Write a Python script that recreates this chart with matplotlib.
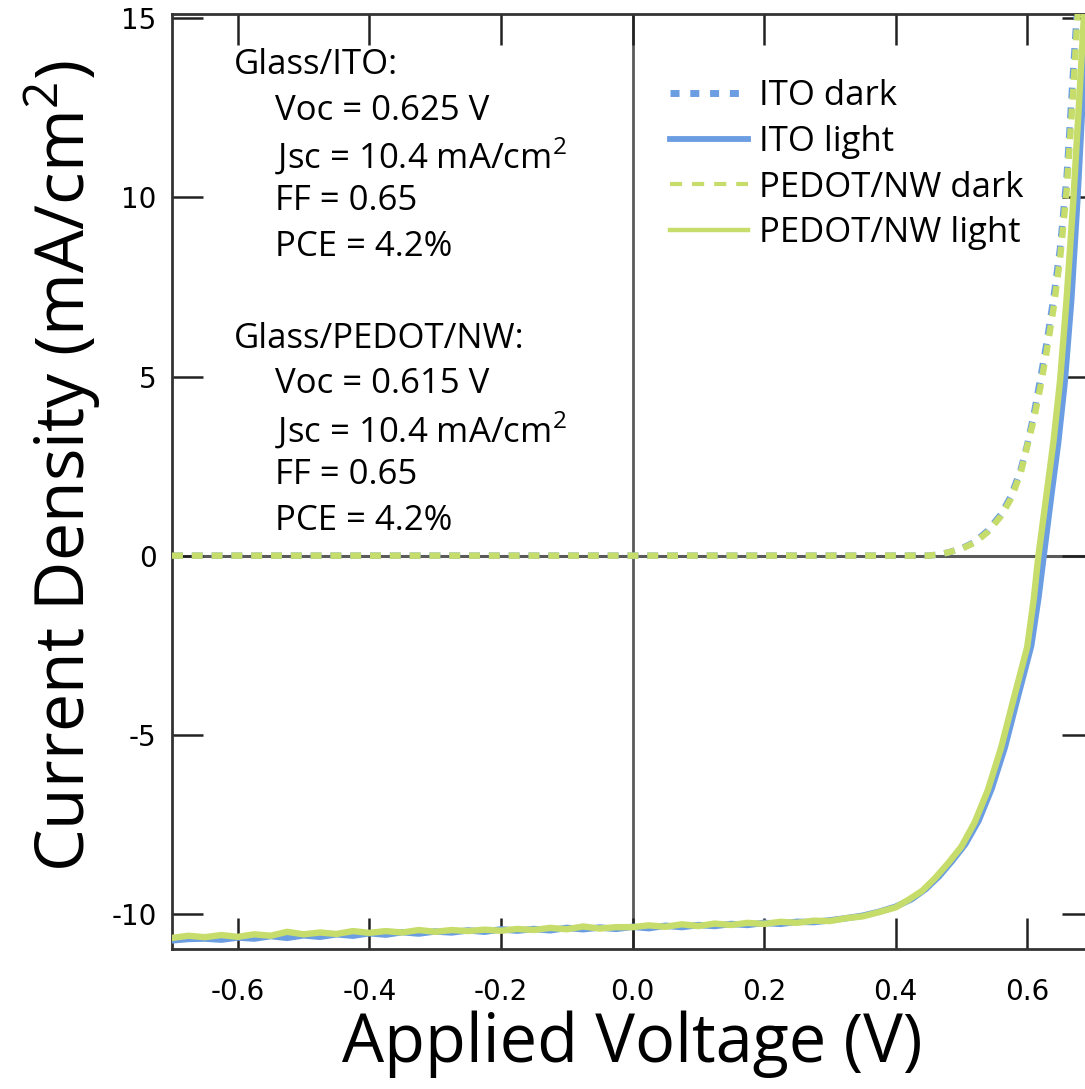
import matplotlib
matplotlib.use("Agg")
import matplotlib.pyplot as plt
from matplotlib.lines import Line2D

plt.rcParams['font.family'] = ['Open Sans', 'DejaVu Sans']
plt.rcParams['mathtext.fontset'] = 'custom'
plt.rcParams['mathtext.rm'] = 'Open Sans'

# ---- J-V data (V in volts, J in mA/cm^2) ----
dark_v = [-0.70, -0.60, -0.50, -0.40, -0.30, -0.20, -0.10, 0.00, 0.10, 0.20,
          0.30, 0.40, 0.45, 0.465, 0.48, 0.50, 0.52, 0.54, 0.56, 0.575, 0.59,
          0.60, 0.61, 0.62, 0.63, 0.64, 0.65, 0.66, 0.67, 0.677, 0.69]
ito_dark_j = [0.0, 0.0, 0.0, 0.0, 0.0, 0.0, 0.0, 0.0, 0.0, 0.0,
              0.0, 0.0, 0.0, 0.03, 0.09, 0.20, 0.38, 0.70, 1.15, 1.65, 2.40,
              3.10, 3.95, 4.95, 6.00, 7.20, 8.60, 10.6, 13.6, 15.6, 19.5]
pedot_dark_j = [0.0, 0.0, 0.0, 0.0, 0.0, 0.0, 0.0, 0.0, 0.0, 0.0,
                0.0, 0.0, 0.0, 0.03, 0.09, 0.19, 0.36, 0.66, 1.10, 1.58, 2.30,
                3.05, 3.80, 4.70, 5.75, 6.90, 8.30, 10.2, 13.0, 15.2, 19.0]

light_v = [-0.700, -0.675, -0.650, -0.625, -0.600, -0.575, -0.550, -0.525,
           -0.500, -0.475, -0.450, -0.425, -0.400, -0.375, -0.350, -0.325,
           -0.300, -0.275, -0.250, -0.225, -0.200, -0.175, -0.150, -0.125,
           -0.100, -0.075, -0.050, -0.025, 0.000, 0.025, 0.050, 0.075,
           0.100, 0.125, 0.150, 0.175, 0.200, 0.225, 0.250, 0.275,
           0.300, 0.325, 0.350, 0.375, 0.400, 0.420, 0.440, 0.460,
           0.480, 0.500, 0.520, 0.540, 0.560, 0.580, 0.600, 0.610,
           0.617, 0.630, 0.640, 0.650, 0.660, 0.670, 0.678, 0.686, 0.692]
pedot_light_j = [-10.67, -10.61, -10.65, -10.59, -10.64, -10.57, -10.61, -10.50,
                 -10.57, -10.52, -10.56, -10.48, -10.53, -10.48, -10.52, -10.45,
                 -10.50, -10.45, -10.48, -10.44, -10.47, -10.42, -10.45, -10.39,
                 -10.43, -10.35, -10.41, -10.37, -10.37, -10.32, -10.36, -10.29,
                 -10.34, -10.27, -10.31, -10.25, -10.28, -10.22, -10.25, -10.19,
                 -10.20, -10.12, -10.07, -9.95, -9.82, -9.60, -9.36, -9.00,
                 -8.58, -8.12, -7.45, -6.55, -5.38, -3.95, -2.55, -1.20,
                 0.00, 1.80, 3.20, 4.90, 7.20, 9.90, 12.4, 15.0, 16.8]
ito_light_v = [-0.700, -0.675, -0.650, -0.625, -0.600, -0.575, -0.550, -0.525,
               -0.500, -0.475, -0.450, -0.425, -0.400, -0.375, -0.350, -0.325,
               -0.300, -0.275, -0.250, -0.225, -0.200, -0.175, -0.150, -0.125,
               -0.100, -0.075, -0.050, -0.025, 0.000, 0.025, 0.050, 0.075,
               0.100, 0.125, 0.150, 0.175, 0.200, 0.225, 0.250, 0.275,
               0.300, 0.325, 0.350, 0.375, 0.400, 0.425, 0.446, 0.466,
               0.486, 0.506, 0.526, 0.546, 0.566, 0.586, 0.606, 0.617,
               0.625, 0.637, 0.647, 0.657, 0.667, 0.676, 0.683, 0.690, 0.696]
ito_light_j = [-10.74, -10.70, -10.69, -10.72, -10.66, -10.69, -10.62, -10.67,
               -10.60, -10.64, -10.57, -10.61, -10.54, -10.58, -10.51, -10.55,
               -10.49, -10.52, -10.46, -10.50, -10.43, -10.47, -10.42, -10.46,
               -10.39, -10.43, -10.38, -10.42, -10.36, -10.40, -10.33, -10.37,
               -10.31, -10.34, -10.28, -10.31, -10.25, -10.28, -10.22, -10.23,
               -10.18, -10.12, -10.05, -9.94, -9.80, -9.58, -9.30, -8.95,
               -8.52, -8.05, -7.40, -6.50, -5.35, -3.92, -2.52, -1.18,
               0.00, 1.75, 3.15, 4.85, 7.15, 9.85, 12.3, 15.0, 16.8]

series_labels = ["ITO dark", "ITO light", "PEDOT/NW dark", "PEDOT/NW light"]
blue = "#6b9de2"
green = "#c6dd6c"

ito_text = ["Glass/ITO:", "Voc = 0.625 V", r"Jsc = 10.4 mA/cm$^{\mathregular{2}}$",
            "FF = 0.65", "PCE = 4.2%"]
pedot_text = ["Glass/PEDOT/NW:", "Voc = 0.615 V", r"Jsc = 10.4 mA/cm$^{\mathregular{2}}$",
              "FF = 0.65", "PCE = 4.2%"]

xticks = [-0.6, -0.4, -0.2, 0.0, 0.2, 0.4, 0.6]
xtick_labels = ["-0.6", "-0.4", "-0.2", "0.0", "0.2", "0.4", "0.6"]
yticks = [-10, -5, 0, 5, 10, 15]
ytick_labels = ["-10", "-5", "0", "5", "10", "15"]

W, H = 1085, 1089
fig = plt.figure(figsize=(W / 100, H / 100), dpi=100)
ax = fig.add_axes([172 / W, (H - 949) / H, (1093 - 172) / W, (949 - 14) / H])

ax.set_xlim(-0.7, 0.7)
ax.set_ylim(-10.98, 15.12)

# zero reference lines
ax.axhline(0, color="#5a5a5a", lw=2.2, zorder=1)
ax.axvline(0, color="#5a5a5a", lw=2.0, zorder=1)

lw_dark = 4.6
ax.plot(dark_v, ito_dark_j, color=blue, lw=lw_dark, dashes=(1.7, 1.4),
        dash_capstyle="butt", zorder=2)
ax.plot(dark_v, pedot_dark_j, color=green, lw=lw_dark, dashes=(1.7, 1.4),
        dash_capstyle="butt", zorder=3)
ax.plot(ito_light_v, ito_light_j, color=blue, lw=4.6, zorder=4)
ax.plot(light_v, pedot_light_j, color=green, lw=4.6, zorder=5)

# legend entries
leg_handles = [
    Line2D([], [], color=blue, lw=5.0, dashes=(1.3, 1.55), dash_capstyle="butt"),
    Line2D([], [], color=blue, lw=4.2),
    Line2D([], [], color=green, lw=3.0, dashes=(2.9, 2.4), dash_capstyle="butt"),
    Line2D([], [], color=green, lw=3.2),
]
leg = ax.legend(leg_handles, series_labels, loc="upper left",
                bbox_to_anchor=((670 - 172) / (1093 - 172), 1 - (79 - 14) / (949 - 14)),
                frameon=False, fontsize=25, handlelength=2.25, handletextpad=0.3,
                labelspacing=0.34, borderaxespad=0, borderpad=0)

# spines and ticks
for s in ax.spines.values():
    s.set_color("#333333")
    s.set_linewidth(2.0)
ax.tick_params(direction="in", length=22, width=1.8, color="#222222",
               top=True, right=True)
ax.tick_params(axis="x", pad=21)
ax.tick_params(axis="y", pad=11)
ax.set_xticks(xticks)
ax.set_xticklabels(xtick_labels, family="DejaVu Sans", fontsize=20)
ax.set_yticks(yticks)
ax.set_yticklabels(ytick_labels, family="DejaVu Sans", fontsize=20)

ax.set_xlabel("Applied Voltage (V)", fontsize=48, labelpad=3)
ax.set_ylabel(r"Current Density (mA/cm$^{\mathregular{2}}$)", fontsize=49, labelpad=6)
ax.yaxis.label.set_y((949 - 466) / (949 - 14))

# device parameter annotations
def put_block(lines, y0):
    for i, t in enumerate(lines):
        x = 234 if i == 0 else 275
        y = y0 + i * 45.5
        fig.text(x / W, 1 - y / H, t, fontsize=25, va="center", ha="left")

put_block(ito_text, 65)
put_block(pedot_text, 339)

fig.savefig("out.png", dpi=100)
